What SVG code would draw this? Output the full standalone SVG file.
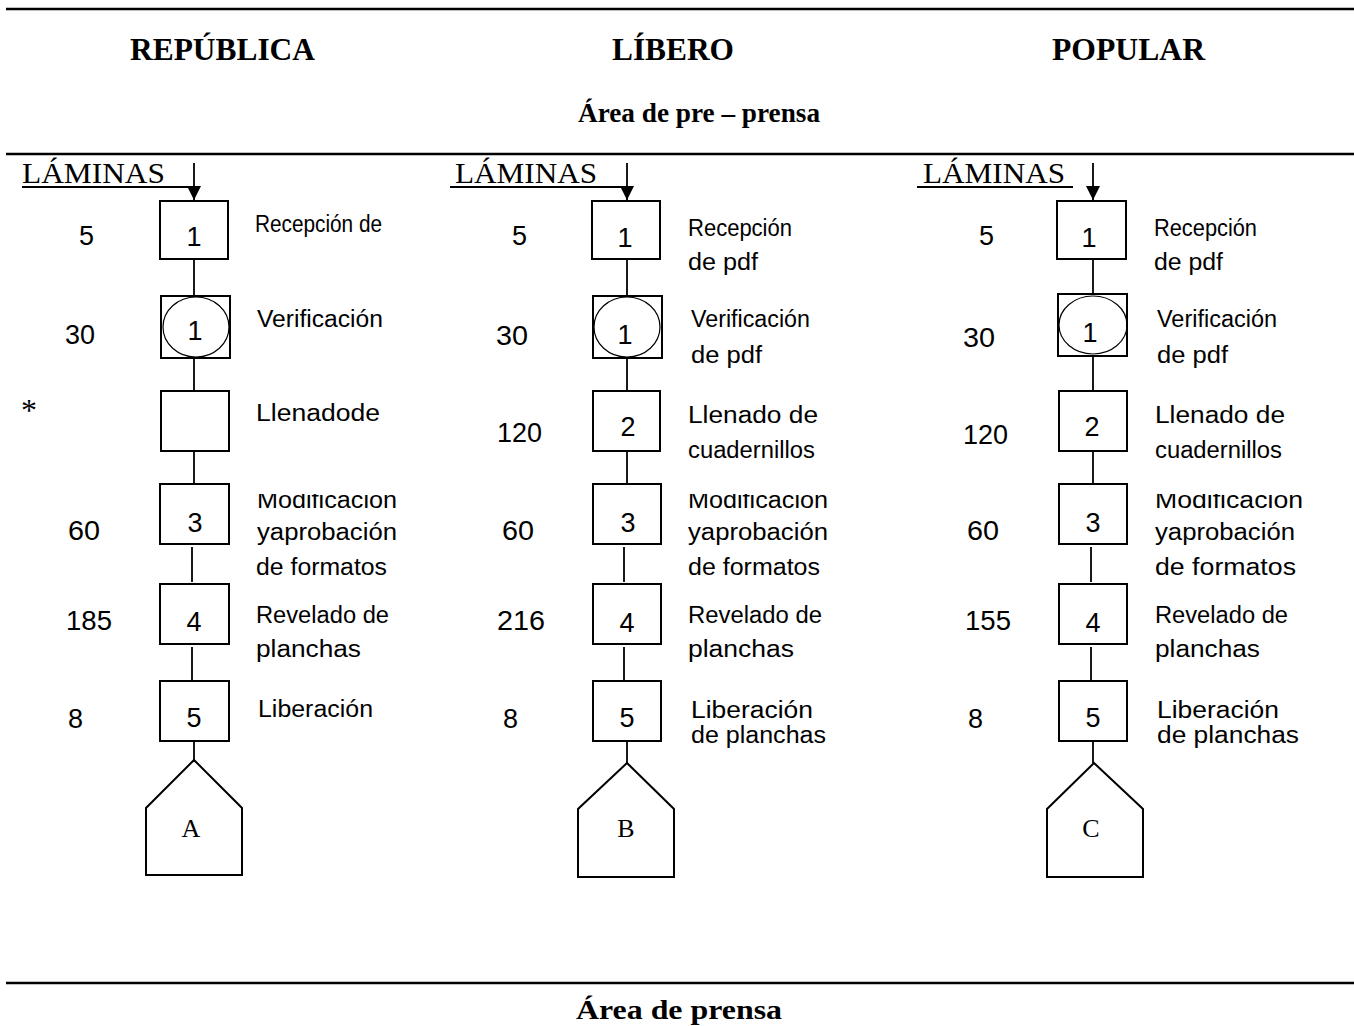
<svg xmlns="http://www.w3.org/2000/svg" width="1354" height="1026" viewBox="0 0 1354 1026">
<style>
.hdr{font-family:"Liberation Serif",serif;font-weight:bold;font-size:31px;fill:#000}
.area{font-family:"Liberation Serif",serif;font-weight:bold;font-size:28px;fill:#000}
.lam{font-family:"Liberation Serif",serif;font-size:30px;fill:#000}
.lbl{font-family:"Liberation Sans",Arial,sans-serif;font-size:23px;fill:#000}
.num{font-family:"Liberation Sans",Arial,sans-serif;font-size:27px;fill:#000}
.bn{font-family:"Liberation Sans",Arial,sans-serif;font-size:27px;fill:#000;text-anchor:middle}
.pl{font-family:"Liberation Serif",serif;font-size:26px;fill:#000;text-anchor:middle}
.box{fill:#fff;stroke:#000;stroke-width:2}
.ell{fill:none;stroke:#000;stroke-width:1.2}
.conn line{stroke:#000;stroke-width:1.8}
.rule{stroke:#000;stroke-width:2.5}
.ul{stroke:#000;stroke-width:1.8}
</style>
<defs>
<marker id="ah" viewBox="0 0 10 10" refX="10" refY="5" markerWidth="14" markerHeight="14" markerUnits="userSpaceOnUse" orient="auto">
<path d="M0,0 L10,5 L0,10 z" fill="#000"/>
</marker>
<clipPath id="modclip"><rect x="0" y="494" width="1354" height="40"/></clipPath>
</defs>

<!-- header -->
<g id="header">
<line class="rule" x1="6" y1="9" x2="1354" y2="9"/>
<text class="hdr" x="130" y="60" textLength="185" lengthAdjust="spacingAndGlyphs">REPÚBLICA</text>
<text class="hdr" x="612" y="60" textLength="122" lengthAdjust="spacingAndGlyphs">LÍBERO</text>
<text class="hdr" x="1052" y="60" textLength="153" lengthAdjust="spacingAndGlyphs">POPULAR</text>
<text class="area" x="578" y="122" textLength="242" lengthAdjust="spacingAndGlyphs">Área de pre – prensa</text>
<line class="rule" x1="6" y1="154" x2="1354" y2="154"/>
</g>

<g id="footer">
<line class="rule" x1="6" y1="983" x2="1354" y2="983"/>
<text class="area" x="576" y="1019" textLength="206" lengthAdjust="spacingAndGlyphs">Área de prensa</text>
</g>

<!-- connectors -->
<g id="connectors" class="conn">
<line x1="194" y1="163" x2="194" y2="200" marker-end="url(#ah)"/>
<line x1="194" y1="259" x2="194" y2="296"/>
<line x1="194" y1="358" x2="194" y2="391"/>
<line x1="194" y1="451" x2="194" y2="484"/>
<line x1="192" y1="547" x2="192" y2="582"/>
<line x1="192" y1="647" x2="192" y2="681"/>
<line x1="194" y1="741" x2="194" y2="760"/>

<line x1="627" y1="163" x2="627" y2="200" marker-end="url(#ah)"/>
<line x1="627" y1="259" x2="627" y2="296"/>
<line x1="627" y1="358" x2="627" y2="391"/>
<line x1="627" y1="451" x2="627" y2="484"/>
<line x1="624" y1="547" x2="624" y2="582"/>
<line x1="624" y1="647" x2="624" y2="681"/>
<line x1="627" y1="741" x2="627" y2="763"/>

<line x1="1093" y1="163" x2="1093" y2="200" marker-end="url(#ah)"/>
<line x1="1093" y1="259" x2="1093" y2="294"/>
<line x1="1093" y1="356" x2="1093" y2="391"/>
<line x1="1093" y1="451" x2="1093" y2="484"/>
<line x1="1091" y1="547" x2="1091" y2="582"/>
<line x1="1091" y1="647" x2="1091" y2="681"/>
<line x1="1093" y1="741" x2="1093" y2="763"/>
</g>

<!-- Column 1: REPÚBLICA -->
<g id="rep-laminas">
<text class="lam" x="22" y="183" textLength="143" lengthAdjust="spacingAndGlyphs">LÁMINAS</text>
<line class="ul" x1="22" y1="187" x2="195" y2="187"/>
</g>
<g id="rep-op1">
<rect class="box" x="160" y="201" width="68" height="58"/>
<text class="bn" x="194" y="246">1</text>
<text class="num" x="79" y="245">5</text>
<text class="lbl" x="255" y="232" textLength="127" lengthAdjust="spacingAndGlyphs">Recepción de</text>
</g>
<g id="rep-comb1">
<rect class="box" x="161" y="296" width="69" height="62"/>
<ellipse class="ell" cx="196" cy="327" rx="33" ry="30"/>
<text class="bn" x="195" y="340">1</text>
<text class="num" x="65" y="344" textLength="30" lengthAdjust="spacingAndGlyphs">30</text>
<text class="lbl" x="257" y="327" textLength="126" lengthAdjust="spacingAndGlyphs">Verificación</text>
</g>
<g id="rep-op2">
<rect class="box" x="161" y="391" width="68" height="60"/>
<text x="21" y="421" style="font-family:'Liberation Serif',serif;font-size:32px">*</text>
<text class="lbl" x="256" y="421" textLength="124" lengthAdjust="spacingAndGlyphs">Llenadode</text>
</g>
<g id="rep-op3">
<rect class="box" x="160" y="484" width="69" height="60"/>
<text class="bn" x="195" y="532">3</text>
<text class="num" x="68" y="540" textLength="32" lengthAdjust="spacingAndGlyphs">60</text>
<text class="lbl" x="257" y="508" textLength="140" lengthAdjust="spacingAndGlyphs" clip-path="url(#modclip)">Modificación</text>
<text class="lbl" x="257" y="540" textLength="140" lengthAdjust="spacingAndGlyphs">yaprobación</text>
<text class="lbl" x="256" y="575" textLength="131" lengthAdjust="spacingAndGlyphs">de formatos</text>
</g>
<g id="rep-op4">
<rect class="box" x="160" y="584" width="69" height="60"/>
<text class="bn" x="194" y="631">4</text>
<text class="num" x="66" y="630" textLength="46" lengthAdjust="spacingAndGlyphs">185</text>
<text class="lbl" x="256" y="623" textLength="133" lengthAdjust="spacingAndGlyphs">Revelado de</text>
<text class="lbl" x="256" y="657" textLength="105" lengthAdjust="spacingAndGlyphs">planchas</text>
</g>
<g id="rep-op5">
<rect class="box" x="160" y="681" width="69" height="60"/>
<text class="bn" x="194" y="727">5</text>
<text class="num" x="68" y="728">8</text>
<text class="lbl" x="258" y="717" textLength="115" lengthAdjust="spacingAndGlyphs">Liberación</text>
</g>
<g id="rep-A">
<polygon class="box" points="194,760 242,808 242,875 146,875 146,808"/>
<text class="pl" x="191" y="837">A</text>
</g>

<!-- Column 2: LÍBERO -->
<g id="lib-laminas">
<text class="lam" x="455" y="183" textLength="142" lengthAdjust="spacingAndGlyphs">LÁMINAS</text>
<line class="ul" x1="450" y1="187" x2="628" y2="187"/>
</g>
<g id="lib-op1">
<rect class="box" x="592" y="201" width="68" height="58"/>
<text class="bn" x="625" y="247">1</text>
<text class="num" x="512" y="245">5</text>
<text class="lbl" x="688" y="236" textLength="104" lengthAdjust="spacingAndGlyphs">Recepción</text>
<text class="lbl" x="688" y="270" textLength="70" lengthAdjust="spacingAndGlyphs">de pdf</text>
</g>
<g id="lib-comb1">
<rect class="box" x="593" y="296" width="69" height="62"/>
<ellipse class="ell" cx="627" cy="327" rx="33" ry="30"/>
<text class="bn" x="625" y="344">1</text>
<text class="num" x="496" y="345" textLength="32" lengthAdjust="spacingAndGlyphs">30</text>
<text class="lbl" x="691" y="327" textLength="119" lengthAdjust="spacingAndGlyphs">Verificación</text>
<text class="lbl" x="691" y="363" textLength="71" lengthAdjust="spacingAndGlyphs">de pdf</text>
</g>
<g id="lib-op2">
<rect class="box" x="593" y="391" width="67" height="60"/>
<text class="bn" x="628" y="436">2</text>
<text class="num" x="497" y="442" textLength="45" lengthAdjust="spacingAndGlyphs">120</text>
<text class="lbl" x="688" y="423" textLength="130" lengthAdjust="spacingAndGlyphs">Llenado de</text>
<text class="lbl" x="688" y="458" textLength="127" lengthAdjust="spacingAndGlyphs">cuadernillos</text>
</g>
<g id="lib-op3">
<rect class="box" x="593" y="484" width="68" height="60"/>
<text class="bn" x="628" y="532">3</text>
<text class="num" x="502" y="540" textLength="32" lengthAdjust="spacingAndGlyphs">60</text>
<text class="lbl" x="688" y="508" textLength="140" lengthAdjust="spacingAndGlyphs" clip-path="url(#modclip)">Modificación</text>
<text class="lbl" x="688" y="540" textLength="140" lengthAdjust="spacingAndGlyphs">yaprobación</text>
<text class="lbl" x="688" y="575" textLength="132" lengthAdjust="spacingAndGlyphs">de formatos</text>
</g>
<g id="lib-op4">
<rect class="box" x="593" y="584" width="68" height="60"/>
<text class="bn" x="627" y="632">4</text>
<text class="num" x="497" y="630" textLength="48" lengthAdjust="spacingAndGlyphs">216</text>
<text class="lbl" x="688" y="623" textLength="134" lengthAdjust="spacingAndGlyphs">Revelado de</text>
<text class="lbl" x="688" y="657" textLength="106" lengthAdjust="spacingAndGlyphs">planchas</text>
</g>
<g id="lib-op5">
<rect class="box" x="593" y="681" width="68" height="60"/>
<text class="bn" x="627" y="727">5</text>
<text class="num" x="503" y="728">8</text>
<text class="lbl" x="691" y="718" textLength="122" lengthAdjust="spacingAndGlyphs">Liberación</text>
<text class="lbl" x="691" y="743" textLength="135" lengthAdjust="spacingAndGlyphs">de planchas</text>
</g>
<g id="lib-B">
<polygon class="box" points="627,763 674,809 674,877 578,877 578,809"/>
<text class="pl" x="626" y="837">B</text>
</g>

<!-- Column 3: POPULAR -->
<g id="pop-laminas">
<text class="lam" x="923" y="183" textLength="142" lengthAdjust="spacingAndGlyphs">LÁMINAS</text>
<line class="ul" x1="917" y1="187" x2="1073" y2="187"/>
</g>
<g id="pop-op1">
<rect class="box" x="1057" y="201" width="69" height="58"/>
<text class="bn" x="1089" y="247">1</text>
<text class="num" x="979" y="245">5</text>
<text class="lbl" x="1154" y="236" textLength="103" lengthAdjust="spacingAndGlyphs">Recepción</text>
<text class="lbl" x="1154" y="270" textLength="69" lengthAdjust="spacingAndGlyphs">de pdf</text>
</g>
<g id="pop-comb1">
<rect class="box" x="1058" y="294" width="69" height="62"/>
<ellipse class="ell" cx="1093" cy="325" rx="34" ry="29"/>
<text class="bn" x="1090" y="342">1</text>
<text class="num" x="963" y="347" textLength="32" lengthAdjust="spacingAndGlyphs">30</text>
<text class="lbl" x="1157" y="327" textLength="120" lengthAdjust="spacingAndGlyphs">Verificación</text>
<text class="lbl" x="1157" y="363" textLength="71" lengthAdjust="spacingAndGlyphs">de pdf</text>
</g>
<g id="pop-op2">
<rect class="box" x="1059" y="391" width="68" height="60"/>
<text class="bn" x="1092" y="436">2</text>
<text class="num" x="963" y="444" textLength="45" lengthAdjust="spacingAndGlyphs">120</text>
<text class="lbl" x="1155" y="423" textLength="130" lengthAdjust="spacingAndGlyphs">Llenado de</text>
<text class="lbl" x="1155" y="458" textLength="127" lengthAdjust="spacingAndGlyphs">cuadernillos</text>
</g>
<g id="pop-op3">
<rect class="box" x="1059" y="484" width="68" height="60"/>
<text class="bn" x="1093" y="532">3</text>
<text class="num" x="967" y="540" textLength="32" lengthAdjust="spacingAndGlyphs">60</text>
<text class="lbl" x="1155" y="508" textLength="148" lengthAdjust="spacingAndGlyphs" clip-path="url(#modclip)">Modificación</text>
<text class="lbl" x="1155" y="540" textLength="140" lengthAdjust="spacingAndGlyphs">yaprobación</text>
<text class="lbl" x="1155" y="575" textLength="141" lengthAdjust="spacingAndGlyphs">de formatos</text>
</g>
<g id="pop-op4">
<rect class="box" x="1059" y="584" width="68" height="60"/>
<text class="bn" x="1093" y="632">4</text>
<text class="num" x="965" y="630" textLength="46" lengthAdjust="spacingAndGlyphs">155</text>
<text class="lbl" x="1155" y="623" textLength="133" lengthAdjust="spacingAndGlyphs">Revelado de</text>
<text class="lbl" x="1155" y="657" textLength="105" lengthAdjust="spacingAndGlyphs">planchas</text>
</g>
<g id="pop-op5">
<rect class="box" x="1059" y="681" width="68" height="60"/>
<text class="bn" x="1093" y="727">5</text>
<text class="num" x="968" y="728">8</text>
<text class="lbl" x="1157" y="718" textLength="122" lengthAdjust="spacingAndGlyphs">Liberación</text>
<text class="lbl" x="1157" y="743" textLength="142" lengthAdjust="spacingAndGlyphs">de planchas</text>
</g>
<g id="pop-C">
<polygon class="box" points="1094,763 1143,809 1143,877 1047,877 1047,809"/>
<text class="pl" x="1091" y="837">C</text>
</g>
</svg>
